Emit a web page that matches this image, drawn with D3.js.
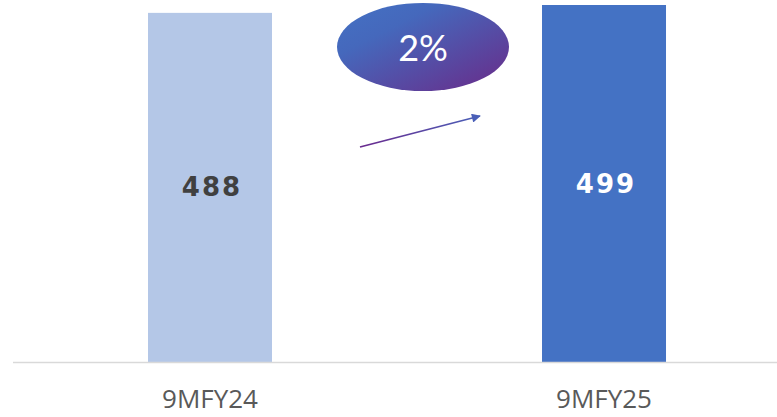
<!DOCTYPE html>
<html>
<head>
<meta charset="utf-8">
<script src="https://cdn.jsdelivr.net/npm/d3@7"></script>
<style>
  body { margin: 0; background: #fff; }
  svg { display: block; }
</style>
</head>
<body>
<div id="chart"></div>
<script>
// data
var categories = ["9MFY24", "9MFY25"]
var values = [488, 499]
var barColors = ["#B4C7E7", "#4472C4"]
var labelColors = ["#404040", "#ffffff"]
var growthLabel = "2%"

var width = 777, height = 417
var baseY = 362

var svg = d3.select("#chart").append("svg")
    .attr("width", width)
    .attr("height", height)

var x = d3.scaleBand()
    .domain(categories)
    .range([13, 801])
    .paddingInner(0.6853)
    .paddingOuter(0.3426)

var y = d3.scaleLinear()
    .domain([0, 499])
    .range([baseY, 5])

// bars
svg.selectAll("rect.bar")
    .data(values)
    .enter().append("rect")
    .attr("class", "bar")
    .attr("x", function(d, i) { return x(categories[i]) })
    .attr("y", function(d) { return y(d) })
    .attr("width", x.bandwidth())
    .attr("height", function(d) { return baseY - y(d) })
    .attr("fill", function(d, i) { return barColors[i] })

// value labels inside the bars
svg.selectAll("text.val")
    .data(values)
    .enter().append("text")
    .attr("class", "val")
    .attr("x", function(d, i) { return x(categories[i]) + x.bandwidth() / 2 + 2 })
    .attr("y", function(d) { return (y(d) + baseY) / 2 + 9 })
    .attr("text-anchor", "middle")
    .attr("font-family", "DejaVu Sans, sans-serif")
    .attr("font-weight", "bold")
    .attr("font-size", 26)
    .attr("letter-spacing", 2)
    .attr("fill", function(d, i) { return labelColors[i] })
    .text(function(d) { return d })

// baseline
svg.append("line")
    .attr("x1", 13).attr("x2", width)
    .attr("y1", baseY + 0.5).attr("y2", baseY + 0.5)
    .attr("stroke", "#D9D9D9")
    .attr("stroke-width", 1.5)

// category axis
var axis = svg.append("g")
    .attr("transform", "translate(0," + baseY + ")")
    .call(d3.axisBottom(x).tickSize(0).tickPadding(28))
axis.select(".domain").remove()
axis.selectAll("text")
    .attr("font-family", "Open Sans, sans-serif")
    .attr("font-size", 26)
    .attr("fill", "#595959")

// growth bubble
var defs = svg.append("defs")
var grad = defs.append("linearGradient")
    .attr("id", "bubbleGrad")
    .attr("x1", "0%").attr("y1", "0%")
    .attr("x2", "100%").attr("y2", "100%")
grad.append("stop").attr("offset", "0%").attr("stop-color", "#4472C4")
grad.append("stop").attr("offset", "30%").attr("stop-color", "#4568BC")
grad.append("stop").attr("offset", "100%").attr("stop-color", "#6A2A88")

var cx = (x(categories[0]) + x(categories[1]) + x.bandwidth()) / 2 + 16
svg.append("ellipse")
    .attr("cx", cx)
    .attr("cy", 47)
    .attr("rx", 86)
    .attr("ry", 44)
    .attr("fill", "url(#bubbleGrad)")

svg.append("text")
    .attr("x", cx)
    .attr("y", 61)
    .attr("text-anchor", "middle")
    .attr("font-family", "Lato, Open Sans, sans-serif")
    .attr("font-weight", 400)
    .attr("font-size", 36)
    .attr("fill", "#ffffff")
    .text(growthLabel)

// arrow
var lineGrad = defs.append("linearGradient")
    .attr("id", "arrowGrad")
    .attr("gradientUnits", "userSpaceOnUse")
    .attr("x1", 360).attr("y1", 147)
    .attr("x2", 480).attr("y2", 116)
lineGrad.append("stop").attr("offset", "0%").attr("stop-color", "#6A2A8E")
lineGrad.append("stop").attr("offset", "100%").attr("stop-color", "#4A60B8")

defs.append("marker")
    .attr("id", "arrowHead")
    .attr("viewBox", "0 0 10 10")
    .attr("refX", 9).attr("refY", 5)
    .attr("markerWidth", 12).attr("markerHeight", 9)
    .attr("markerUnits", "userSpaceOnUse")
    .attr("orient", "auto")
    .append("path")
    .attr("d", "M0,0 L10,5 L0,10 Z")
    .attr("fill", "#4A5FB8")

var arrowStart = [360, 147], arrowEnd = [480, 116]
svg.append("line")
    .attr("x1", arrowStart[0]).attr("y1", arrowStart[1])
    .attr("x2", arrowEnd[0]).attr("y2", arrowEnd[1])
    .attr("stroke", "url(#arrowGrad)")
    .attr("stroke-width", 1.75)
    .attr("marker-end", "url(#arrowHead)")
</script>
</body>
</html>
